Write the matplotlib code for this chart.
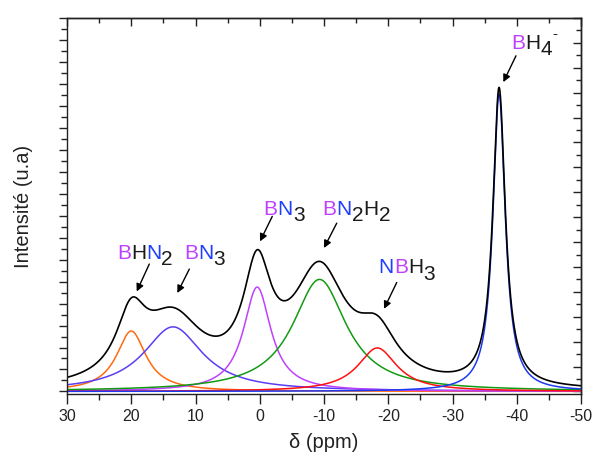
import numpy as np
import matplotlib
matplotlib.use('Agg')
import matplotlib.pyplot as plt
from matplotlib.ticker import MultipleLocator, NullFormatter

plt.rcParams['font.family'] = ['Liberation Sans', 'DejaVu Sans']
plt.rcParams['axes.unicode_minus'] = False

# fitted components (Lorentzian)
peak_centers = [20.0, 13.5, 0.4, -9.3, -18.3, -37.25]     # ppm
peak_heights = [2.75, 2.94, 4.75, 5.10, 1.98, 13.54]      # a.u.
peak_hwhm = [2.8, 5.6, 2.6, 5.1, 3.7, 1.17]               # ppm
peak_colors = ['#FF6A10', '#5B3DF5', '#BF40FF', '#139A13', '#FF1010', '#1C3AF0']

MAG = '#BF40FF'
BLU = '#1F3FFF'
BLK = '#1a1a1a'

# label pieces: (text, colour, vertical offset in pt)
labels = [
    [('B', MAG, 0), ('H', BLK, 0), ('N', BLU, 0), ('2', BLK, -4.5)],
    [('B', MAG, 0), ('N', BLU, 0), ('3', BLK, -4.5)],
    [('B', MAG, 0), ('N', BLU, 0), ('3', BLK, -4.5)],
    [('B', MAG, 0), ('N', BLU, 0), ('2', BLK, -4.5), ('H', BLK, 0), ('2', BLK, -4.5)],
    [('N', BLU, 0), ('B', MAG, 0), ('H', BLK, 0), ('3', BLK, -4.5)],
    [('B', MAG, 0), ('H', BLK, 0), ('4', BLK, -4.5)],
]
label_pos = [(22.2, 6.02), (11.75, 6.02), (-0.6, 8.03), (-9.8, 8.03), (-18.5, 5.38), (-39.1, 15.58)]
arrow_tails = [(17.19, 5.80), (10.96, 5.57), (-1.95, 7.97), (-11.98, 7.66), (-21.32, 4.96), (-39.88, 15.28)]
arrow_heads = [(19.15, 4.55), (12.83, 4.48), (-0.04, 6.83), (-10.0, 6.53), (-19.34, 3.76), (-37.91, 14.08)]


def lorentz(x, c, h, w):
    return h / (1.0 + ((x - c) / w) ** 2)


def chem_label(ax, x, y, parts, size=15):
    prev = None
    prev_dy = 0
    for txt, col, dy in parts:
        if prev is None:
            prev = ax.annotate(txt, xy=(x, y), xytext=(0, dy), textcoords='offset points',
                               color=col, fontsize=size, ha='left', va='baseline')
        else:
            prev = ax.annotate(txt, xy=(1, 0), xycoords=prev, xytext=(0, dy - prev_dy),
                               textcoords='offset points', color=col, fontsize=size,
                               ha='left', va='bottom')
        prev_dy = dy
    return prev


fig = plt.figure(figsize=(5.93, 4.59), dpi=100)
ax = fig.add_axes([67 / 593, 1 - 394.3 / 459, 514 / 593, 376.3 / 459])

x = np.linspace(30, -50, 3001)
total = np.zeros_like(x)
for c, h, w, col in zip(peak_centers, peak_heights, peak_hwhm, peak_colors):
    y = lorentz(x, c, h, w)
    total += y
    ax.plot(x, y, color=col, lw=1.1)
ax.plot(x, total, color='black', lw=1.2)

ax.set_xlim(30, -50)
ax.set_ylim(-0.13, 17.0)

ax.xaxis.set_major_locator(MultipleLocator(10))
ax.xaxis.set_minor_locator(MultipleLocator(5))
ax.yaxis.set_major_locator(MultipleLocator(1))
ax.yaxis.set_minor_locator(MultipleLocator(0.5))
ax.yaxis.set_major_formatter(NullFormatter())
ax.tick_params(which='both', direction='out', width=1.0, colors='#222222')
ax.tick_params(which='major', length=7, pad=3.5, labelsize=11.5)
ax.tick_params(which='minor', length=4)
ax.tick_params(axis='y', which='major', length=6)
for s in ax.spines.values():
    s.set_linewidth(1.0)
    s.set_color('#222222')

top = ax.secondary_xaxis('top')
top.xaxis.set_major_locator(MultipleLocator(10))
top.xaxis.set_minor_locator(MultipleLocator(5))
top.tick_params(which='both', direction='in', labeltop=False, width=1.0, colors='#222222')
top.tick_params(which='major', length=6)
top.tick_params(which='minor', length=3.5)
top.spines['top'].set_linewidth(1.0)

right = ax.secondary_yaxis('right', functions=(lambda v: v * 15 / 17, lambda v: v * 17 / 15))
right.yaxis.set_major_locator(MultipleLocator(1))
right.yaxis.set_minor_locator(MultipleLocator(0.5))
right.tick_params(which='both', direction='in', labelright=False, width=1.0, colors='#222222')
right.tick_params(which='major', length=6)
right.tick_params(which='minor', length=3.5)
right.spines['right'].set_linewidth(1.0)

ax.set_xlabel('δ (ppm)', fontsize=14.5, color='#222222', va='top')
ax.xaxis.set_label_coords(0.5, -0.103)
ax.set_ylabel('Intensité (u.a)', fontsize=14.5, color='#222222')
ax.yaxis.set_label_coords(-0.066, 0.5)

for parts, (lx, ly) in zip(labels, label_pos):
    last = chem_label(ax, lx, ly, parts)
# superscript minus on BH4
ax.annotate('-', xy=(1, 0), xycoords=last, xytext=(0.5, 13.5), textcoords='offset points',
            color=BLK, fontsize=11, ha='left', va='bottom')

for tail, head in zip(arrow_tails, arrow_heads):
    ax.annotate('', xy=head, xytext=tail,
                arrowprops=dict(arrowstyle='-|>', color='black', lw=1.0,
                                shrinkA=0, shrinkB=0, mutation_scale=11))

fig.savefig('out.png', dpi=100)
